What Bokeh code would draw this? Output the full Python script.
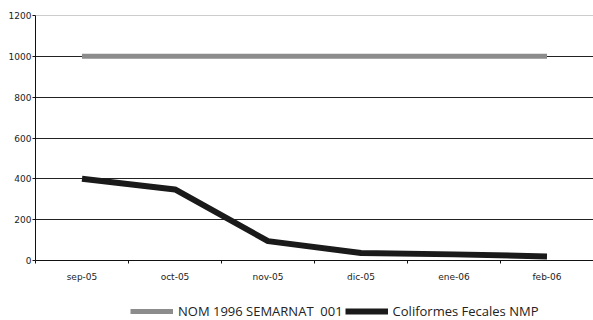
from bokeh.plotting import figure
from bokeh.models import FixedTicker, Span, Legend, LegendItem, Range1d
from bokeh.layouts import column
from bokeh.embed import file_html
from bokeh.resources import INLINE

# Monthly samples
meses = ["sep-05", "oct-05", "nov-05", "dic-05", "ene-06", "feb-06"]
norma = [1000, 1000, 1000, 1000, 1000, 1000]
coliformes = [400, 348, 95, 37, 30, 20]
y_ticks = [0, 200, 400, 600, 800, 1000, 1200]

label_norma = "NOM 1996 SEMARNAT  001"
label_coli = "Coliformes Fecales NMP"

COLOR_NORMA = "#8c8c8c"
COLOR_COLI = "#1a1a1a"

# category centres on a numeric axis so ticks can sit on the boundaries
x_pos = [i + 0.5 for i in range(len(meses))]

p = figure(width=593, height=288, output_backend="svg", toolbar_location=None,
           x_range=Range1d(0, len(meses)), y_range=Range1d(0, 1200),
           min_border_left=35, min_border_right=0, min_border_top=15,
           min_border_bottom=28)
p.outline_line_color = None
p.background_fill_color = "white"
p.border_fill_color = "white"

axis_font = "DejaVu Sans"

# x axis: labels at centres, short marks between months
p.xaxis.ticker = FixedTicker(ticks=x_pos, minor_ticks=list(range(len(meses) + 1)))
p.xaxis.major_label_overrides = {x: m for x, m in zip(x_pos, meses)}
p.xaxis.major_tick_line_color = None
p.xaxis.major_tick_out = 0
p.xaxis.major_tick_in = 0
p.xaxis.minor_tick_line_color = "#111111"
p.xaxis.minor_tick_out = 3
p.xaxis.minor_tick_in = 0
p.xaxis.axis_line_color = "#111111"
p.xaxis.major_label_standoff = 8
p.xaxis.major_label_text_font = axis_font
p.xaxis.major_label_text_font_size = "9px"
p.xaxis.major_label_text_color = "#222222"

# y axis
p.yaxis.ticker = FixedTicker(ticks=y_ticks)
p.yaxis.minor_tick_line_color = None
p.yaxis.major_tick_out = 3
p.yaxis.major_tick_in = 0
p.yaxis.major_tick_line_color = "#111111"
p.yaxis.axis_line_color = "#111111"
p.yaxis.major_label_standoff = 1
p.yaxis.major_label_text_font = axis_font
p.yaxis.major_label_text_font_size = "9px"
p.yaxis.major_label_text_color = "#222222"

p.xgrid.grid_line_color = None
p.ygrid.ticker = FixedTicker(ticks=y_ticks[1:-1])
p.ygrid.grid_line_color = "#222222"
p.ygrid.grid_line_width = 1

p.add_layout(Span(location=y_ticks[-1], dimension="width",
                  line_color="#9a9a9a", line_width=1.2))

p.line(x_pos, norma, line_color=COLOR_NORMA, line_width=5)
p.line(x_pos, coliformes, line_color=COLOR_COLI, line_width=6, line_join="round")

# legend strip underneath the chart; its keys are lines with no visible points
nan = float("nan")
leg = figure(width=593, height=32, output_backend="svg", toolbar_location=None,
             x_range=Range1d(0, 1), y_range=Range1d(0, 1),
             min_border=0, x_axis_type=None, y_axis_type=None)
leg.outline_line_color = None
leg.grid.grid_line_color = None
leg.border_fill_color = "white"
k_norma = leg.line([nan], [nan], line_color=COLOR_NORMA, line_width=5)
k_coli = leg.line([nan], [nan], line_color=COLOR_COLI, line_width=6)

legend = Legend(items=[LegendItem(label=label_norma, renderers=[k_norma]),
                       LegendItem(label=label_coli, renderers=[k_coli])],
                orientation="horizontal", location=(95, 0),
                glyph_width=43, glyph_height=16, label_height=16,
                label_standoff=5, spacing=2, padding=0, margin=0,
                background_fill_alpha=0, border_line_color=None,
                label_text_font="Open Sans", label_text_font_size="13px",
                label_text_color="#222222")
leg.add_layout(legend, "center")

open("out.html", "w").write(file_html(column(p, leg, spacing=0), INLINE))
